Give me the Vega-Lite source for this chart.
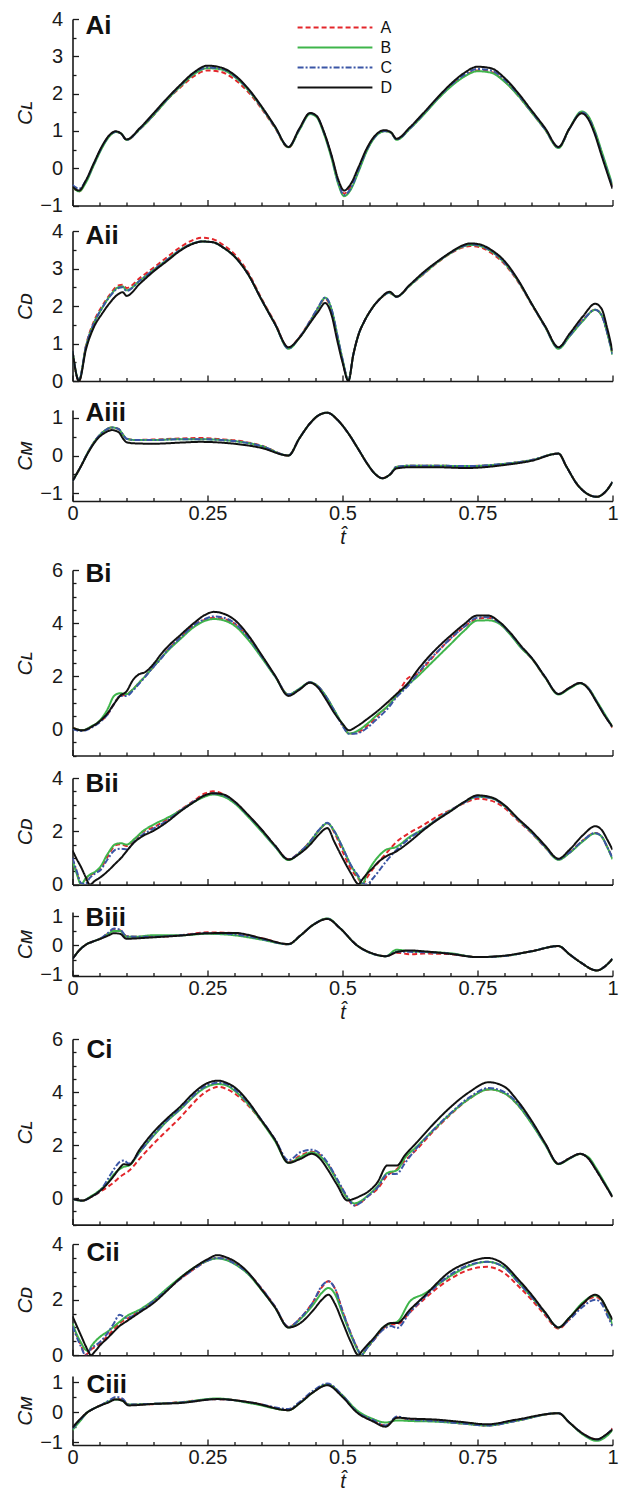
{
"$schema": "https://vega.github.io/schema/vega-lite/v6.json",
"padding": {"left": 13.5, "top": 9, "right": 5, "bottom": 3},
"bounds": "flush",
"spacing": 0,
"resolve": {"legend": {"color": "independent", "strokeDash": "independent"}},
"config": {
 "font": "Liberation Sans",
 "view": {"stroke": null},
 "axis": {"domainColor": "#1a1a1a", "domainWidth": 1.6, "tickColor": "#1a1a1a", "tickWidth": 1.3, "labelFont": "Liberation Sans", "labelFontSize": 20, "labelColor": "#1a1a1a", "titleFont": "Liberation Sans, DejaVu Sans", "titleFontSize": 21, "titleFontStyle": "italic", "titleFontWeight": "normal", "titleColor": "#1a1a1a", "grid": false, "labelFlush": false, "labelOverlap": false, "tickCount": 1000},
 "axisX": {"labelOverlap": false, "labelFlush": false},
 "axisY": {"labelOverlap": false, "labelFlush": false},
 "text": {"font": "Liberation Sans", "fontSize": 26, "fontWeight": "bold", "color": "#111111", "align": "left", "baseline": "alphabetic"}
},
"datasets": {
"ai": [
{"t":0,"A":-0.5,"B":-0.5,"C":-0.45,"D":-0.5},
{"t":0.012,"A":-0.62,"B":-0.62,"C":-0.55,"D":-0.6},
{"t":0.025,"A":-0.35,"B":-0.38,"C":-0.33,"D":-0.32},
{"t":0.04,"A":0.12,"B":0.1,"C":0.13,"D":0.15},
{"t":0.055,"A":0.58,"B":0.55,"C":0.58,"D":0.6},
{"t":0.068,"A":0.87,"B":0.85,"C":0.87,"D":0.88},
{"t":0.08,"A":0.98,"B":0.97,"C":0.98,"D":0.99},
{"t":0.09,"A":0.93,"B":0.93,"C":0.93,"D":0.93},
{"t":0.1,"A":0.76,"B":0.76,"C":0.76,"D":0.77},
{"t":0.125,"A":1.05,"B":1.05,"C":1.06,"D":1.08},
{"t":0.15,"A":1.42,"B":1.42,"C":1.44,"D":1.47},
{"t":0.175,"A":1.83,"B":1.83,"C":1.85,"D":1.87},
{"t":0.2,"A":2.17,"B":2.2,"C":2.22,"D":2.24},
{"t":0.225,"A":2.47,"B":2.52,"C":2.55,"D":2.57},
{"t":0.25,"A":2.62,"B":2.68,"C":2.7,"D":2.75},
{"t":0.275,"A":2.58,"B":2.65,"C":2.67,"D":2.7},
{"t":0.3,"A":2.38,"B":2.45,"C":2.47,"D":2.5},
{"t":0.325,"A":2.05,"B":2.1,"C":2.12,"D":2.14},
{"t":0.35,"A":1.6,"B":1.63,"C":1.64,"D":1.66},
{"t":0.375,"A":1.08,"B":1.1,"C":1.1,"D":1.12},
{"t":0.4,"A":0.55,"B":0.56,"C":0.57,"D":0.57},
{"t":0.42,"A":1.04,"B":1.02,"C":1.04,"D":1.06},
{"t":0.44,"A":1.47,"B":1.45,"C":1.47,"D":1.48},
{"t":0.452,"A":1.4,"B":1.37,"C":1.4,"D":1.4},
{"t":0.465,"A":0.98,"B":0.95,"C":0.98,"D":1.0},
{"t":0.48,"A":0.3,"B":0.25,"C":0.3,"D":0.33},
{"t":0.492,"A":-0.35,"B":-0.42,"C":-0.38,"D":-0.3},
{"t":0.503,"A":-0.68,"B":-0.75,"C":-0.72,"D":-0.6},
{"t":0.515,"A":-0.5,"B":-0.58,"C":-0.55,"D":-0.43},
{"t":0.53,"A":-0.02,"B":-0.08,"C":-0.04,"D":0.04},
{"t":0.545,"A":0.5,"B":0.46,"C":0.49,"D":0.53},
{"t":0.56,"A":0.85,"B":0.83,"C":0.84,"D":0.87},
{"t":0.578,"A":1.0,"B":0.99,"C":1.0,"D":1.02},
{"t":0.59,"A":0.95,"B":0.95,"C":0.95,"D":0.96},
{"t":0.6,"A":0.78,"B":0.76,"C":0.77,"D":0.79},
{"t":0.625,"A":1.08,"B":1.06,"C":1.07,"D":1.1},
{"t":0.65,"A":1.45,"B":1.43,"C":1.45,"D":1.48},
{"t":0.675,"A":1.85,"B":1.83,"C":1.86,"D":1.88},
{"t":0.7,"A":2.2,"B":2.18,"C":2.22,"D":2.25},
{"t":0.725,"A":2.47,"B":2.45,"C":2.5,"D":2.55},
{"t":0.75,"A":2.62,"B":2.6,"C":2.66,"D":2.72},
{"t":0.775,"A":2.58,"B":2.56,"C":2.62,"D":2.68},
{"t":0.8,"A":2.33,"B":2.32,"C":2.37,"D":2.42},
{"t":0.825,"A":1.95,"B":1.95,"C":1.98,"D":2.02},
{"t":0.85,"A":1.5,"B":1.5,"C":1.52,"D":1.55},
{"t":0.875,"A":1.04,"B":1.04,"C":1.05,"D":1.08},
{"t":0.9,"A":0.55,"B":0.54,"C":0.56,"D":0.57},
{"t":0.92,"A":1.05,"B":1.06,"C":1.05,"D":1.06},
{"t":0.943,"A":1.5,"B":1.52,"C":1.5,"D":1.47},
{"t":0.955,"A":1.38,"B":1.4,"C":1.37,"D":1.32},
{"t":0.967,"A":0.98,"B":1.02,"C":0.97,"D":0.92},
{"t":0.98,"A":0.4,"B":0.45,"C":0.38,"D":0.33},
{"t":1,"A":-0.5,"B":-0.45,"C":-0.5,"D":-0.55}
],
"aii": [
{"t":0,"A":0.8,"B":0.8,"C":0.8,"D":0.8},
{"t":0.012,"A":0.0,"B":0.02,"C":0.02,"D":0.0},
{"t":0.025,"A":0.95,"B":0.92,"C":0.93,"D":0.85},
{"t":0.04,"A":1.6,"B":1.55,"C":1.55,"D":1.45},
{"t":0.055,"A":2.0,"B":1.95,"C":1.95,"D":1.8},
{"t":0.07,"A":2.32,"B":2.28,"C":2.27,"D":2.1},
{"t":0.085,"A":2.55,"B":2.5,"C":2.48,"D":2.32},
{"t":0.093,"A":2.57,"B":2.52,"C":2.5,"D":2.37},
{"t":0.1,"A":2.48,"B":2.42,"C":2.4,"D":2.27},
{"t":0.125,"A":2.75,"B":2.68,"C":2.68,"D":2.6},
{"t":0.15,"A":3.02,"B":2.96,"C":2.96,"D":2.92},
{"t":0.175,"A":3.3,"B":3.23,"C":3.23,"D":3.2},
{"t":0.2,"A":3.57,"B":3.5,"C":3.5,"D":3.48},
{"t":0.225,"A":3.77,"B":3.68,"C":3.68,"D":3.67},
{"t":0.24,"A":3.82,"B":3.72,"C":3.72,"D":3.72},
{"t":0.26,"A":3.78,"B":3.7,"C":3.7,"D":3.7},
{"t":0.28,"A":3.62,"B":3.55,"C":3.55,"D":3.55},
{"t":0.3,"A":3.38,"B":3.32,"C":3.32,"D":3.32},
{"t":0.325,"A":2.9,"B":2.85,"C":2.85,"D":2.85},
{"t":0.35,"A":2.2,"B":2.17,"C":2.17,"D":2.17},
{"t":0.375,"A":1.55,"B":1.52,"C":1.52,"D":1.52},
{"t":0.4,"A":0.88,"B":0.86,"C":0.87,"D":0.9},
{"t":0.42,"A":1.17,"B":1.15,"C":1.16,"D":1.15},
{"t":0.44,"A":1.6,"B":1.58,"C":1.6,"D":1.55},
{"t":0.455,"A":1.95,"B":1.95,"C":1.97,"D":1.85},
{"t":0.468,"A":2.2,"B":2.22,"C":2.23,"D":2.08},
{"t":0.48,"A":1.85,"B":1.9,"C":1.9,"D":1.75},
{"t":0.49,"A":1.2,"B":1.25,"C":1.25,"D":1.1},
{"t":0.5,"A":0.55,"B":0.58,"C":0.58,"D":0.5},
{"t":0.511,"A":0.02,"B":0.02,"C":0.02,"D":0.0},
{"t":0.52,"A":0.7,"B":0.7,"C":0.7,"D":0.7},
{"t":0.53,"A":1.25,"B":1.25,"C":1.25,"D":1.25},
{"t":0.54,"A":1.58,"B":1.58,"C":1.58,"D":1.58},
{"t":0.552,"A":1.88,"B":1.88,"C":1.88,"D":1.88},
{"t":0.57,"A":2.2,"B":2.2,"C":2.2,"D":2.2},
{"t":0.587,"A":2.35,"B":2.35,"C":2.36,"D":2.38},
{"t":0.6,"A":2.25,"B":2.25,"C":2.25,"D":2.25},
{"t":0.625,"A":2.55,"B":2.55,"C":2.56,"D":2.57},
{"t":0.65,"A":2.85,"B":2.86,"C":2.87,"D":2.9},
{"t":0.675,"A":3.15,"B":3.16,"C":3.17,"D":3.18},
{"t":0.7,"A":3.4,"B":3.41,"C":3.42,"D":3.43},
{"t":0.72,"A":3.55,"B":3.57,"C":3.58,"D":3.6},
{"t":0.737,"A":3.6,"B":3.63,"C":3.64,"D":3.67},
{"t":0.755,"A":3.57,"B":3.6,"C":3.61,"D":3.64},
{"t":0.775,"A":3.42,"B":3.46,"C":3.47,"D":3.5},
{"t":0.8,"A":3.12,"B":3.15,"C":3.16,"D":3.2},
{"t":0.825,"A":2.65,"B":2.67,"C":2.68,"D":2.7},
{"t":0.85,"A":2.05,"B":2.06,"C":2.06,"D":2.07},
{"t":0.875,"A":1.45,"B":1.45,"C":1.45,"D":1.47},
{"t":0.9,"A":0.88,"B":0.86,"C":0.88,"D":0.9},
{"t":0.92,"A":1.2,"B":1.18,"C":1.2,"D":1.25},
{"t":0.945,"A":1.62,"B":1.6,"C":1.62,"D":1.72},
{"t":0.968,"A":1.9,"B":1.9,"C":1.9,"D":2.06},
{"t":0.98,"A":1.75,"B":1.75,"C":1.75,"D":1.92},
{"t":0.99,"A":1.3,"B":1.3,"C":1.3,"D":1.42},
{"t":1,"A":0.72,"B":0.7,"C":0.72,"D":0.8}
],
"aiii": [
{"t":0,"A":-0.68,"B":-0.68,"C":-0.68,"D":-0.67},
{"t":0.015,"A":-0.3,"B":-0.3,"C":-0.3,"D":-0.3},
{"t":0.03,"A":0.12,"B":0.12,"C":0.12,"D":0.1},
{"t":0.045,"A":0.45,"B":0.45,"C":0.45,"D":0.42},
{"t":0.06,"A":0.66,"B":0.66,"C":0.66,"D":0.6},
{"t":0.073,"A":0.74,"B":0.74,"C":0.74,"D":0.67},
{"t":0.085,"A":0.7,"B":0.7,"C":0.7,"D":0.62},
{"t":0.095,"A":0.52,"B":0.52,"C":0.52,"D":0.42},
{"t":0.1,"A":0.44,"B":0.44,"C":0.44,"D":0.35},
{"t":0.115,"A":0.41,"B":0.41,"C":0.41,"D":0.32},
{"t":0.15,"A":0.42,"B":0.41,"C":0.41,"D":0.31},
{"t":0.2,"A":0.45,"B":0.43,"C":0.43,"D":0.34},
{"t":0.237,"A":0.46,"B":0.43,"C":0.43,"D":0.36},
{"t":0.275,"A":0.43,"B":0.41,"C":0.41,"D":0.34},
{"t":0.3,"A":0.4,"B":0.38,"C":0.38,"D":0.31},
{"t":0.35,"A":0.26,"B":0.25,"C":0.25,"D":0.2},
{"t":0.4,"A":0.0,"B":0.0,"C":0.0,"D":0.0},
{"t":0.42,"A":0.45,"B":0.45,"C":0.45,"D":0.45},
{"t":0.44,"A":0.85,"B":0.85,"C":0.85,"D":0.85},
{"t":0.458,"A":1.08,"B":1.08,"C":1.08,"D":1.08},
{"t":0.472,"A":1.13,"B":1.13,"C":1.13,"D":1.13},
{"t":0.49,"A":0.95,"B":0.95,"C":0.95,"D":0.95},
{"t":0.51,"A":0.6,"B":0.6,"C":0.6,"D":0.6},
{"t":0.53,"A":0.15,"B":0.15,"C":0.15,"D":0.15},
{"t":0.546,"A":-0.22,"B":-0.22,"C":-0.22,"D":-0.22},
{"t":0.56,"A":-0.48,"B":-0.48,"C":-0.48,"D":-0.48},
{"t":0.574,"A":-0.6,"B":-0.6,"C":-0.6,"D":-0.6},
{"t":0.588,"A":-0.5,"B":-0.5,"C":-0.5,"D":-0.5},
{"t":0.6,"A":-0.3,"B":-0.3,"C":-0.3,"D":-0.34},
{"t":0.625,"A":-0.27,"B":-0.27,"C":-0.27,"D":-0.31},
{"t":0.675,"A":-0.27,"B":-0.27,"C":-0.27,"D":-0.31},
{"t":0.73,"A":-0.28,"B":-0.28,"C":-0.28,"D":-0.33},
{"t":0.8,"A":-0.22,"B":-0.22,"C":-0.22,"D":-0.25},
{"t":0.85,"A":-0.12,"B":-0.12,"C":-0.12,"D":-0.14},
{"t":0.9,"A":0.05,"B":0.05,"C":0.05,"D":0.05},
{"t":0.915,"A":-0.3,"B":-0.3,"C":-0.3,"D":-0.3},
{"t":0.934,"A":-0.75,"B":-0.75,"C":-0.75,"D":-0.75},
{"t":0.952,"A":-1.0,"B":-1.0,"C":-1.0,"D":-1.0},
{"t":0.971,"A":-1.09,"B":-1.09,"C":-1.09,"D":-1.09},
{"t":0.986,"A":-0.97,"B":-0.97,"C":-0.97,"D":-0.97},
{"t":1,"A":-0.7,"B":-0.7,"C":-0.7,"D":-0.7}
],
"bi": [
{"t":0,"A":0.05,"B":0.05,"C":0.0,"D":0.05},
{"t":0.018,"A":-0.05,"B":-0.05,"C":-0.08,"D":-0.05},
{"t":0.035,"A":0.08,"B":0.1,"C":0.05,"D":0.08},
{"t":0.052,"A":0.3,"B":0.35,"C":0.28,"D":0.32},
{"t":0.065,"A":0.55,"B":0.75,"C":0.55,"D":0.6},
{"t":0.077,"A":0.95,"B":1.25,"C":0.95,"D":0.95},
{"t":0.088,"A":1.25,"B":1.35,"C":1.25,"D":1.25},
{"t":0.1,"A":1.3,"B":1.32,"C":1.25,"D":1.42},
{"t":0.112,"A":1.5,"B":1.5,"C":1.45,"D":1.85},
{"t":0.122,"A":1.72,"B":1.72,"C":1.68,"D":2.05},
{"t":0.135,"A":2.0,"B":2.0,"C":1.98,"D":2.15},
{"t":0.15,"A":2.35,"B":2.35,"C":2.35,"D":2.45},
{"t":0.165,"A":2.7,"B":2.7,"C":2.68,"D":2.85},
{"t":0.175,"A":2.95,"B":2.92,"C":2.95,"D":3.08},
{"t":0.2,"A":3.45,"B":3.4,"C":3.45,"D":3.55},
{"t":0.225,"A":3.92,"B":3.85,"C":3.92,"D":4.0},
{"t":0.245,"A":4.12,"B":4.08,"C":4.15,"D":4.3},
{"t":0.262,"A":4.2,"B":4.15,"C":4.25,"D":4.42},
{"t":0.28,"A":4.15,"B":4.1,"C":4.2,"D":4.35},
{"t":0.3,"A":3.98,"B":3.9,"C":4.0,"D":4.12},
{"t":0.325,"A":3.45,"B":3.38,"C":3.47,"D":3.55},
{"t":0.35,"A":2.75,"B":2.7,"C":2.75,"D":2.8},
{"t":0.375,"A":2.0,"B":1.98,"C":2.0,"D":2.02},
{"t":0.4,"A":1.3,"B":1.3,"C":1.3,"D":1.25},
{"t":0.42,"A":1.5,"B":1.52,"C":1.5,"D":1.48},
{"t":0.44,"A":1.76,"B":1.76,"C":1.76,"D":1.75},
{"t":0.455,"A":1.6,"B":1.6,"C":1.6,"D":1.55},
{"t":0.47,"A":1.2,"B":1.22,"C":1.2,"D":1.1},
{"t":0.485,"A":0.68,"B":0.7,"C":0.68,"D":0.6},
{"t":0.5,"A":0.15,"B":0.18,"C":0.12,"D":0.2},
{"t":0.512,"A":-0.17,"B":-0.17,"C":-0.18,"D":-0.05},
{"t":0.525,"A":-0.15,"B":-0.1,"C":-0.17,"D":0.08},
{"t":0.546,"A":0.12,"B":0.2,"C":0.05,"D":0.38},
{"t":0.565,"A":0.5,"B":0.55,"C":0.4,"D":0.68},
{"t":0.583,"A":0.85,"B":0.85,"C":0.75,"D":1.0},
{"t":0.6,"A":1.25,"B":1.25,"C":1.2,"D":1.32},
{"t":0.62,"A":1.9,"B":1.65,"C":1.6,"D":1.7},
{"t":0.64,"A":2.1,"B":2.0,"C":2.1,"D":2.25},
{"t":0.656,"A":2.45,"B":2.32,"C":2.5,"D":2.64},
{"t":0.68,"A":3.0,"B":2.8,"C":3.0,"D":3.15},
{"t":0.7,"A":3.4,"B":3.2,"C":3.42,"D":3.52},
{"t":0.725,"A":3.85,"B":3.7,"C":3.85,"D":3.95},
{"t":0.749,"A":4.15,"B":4.09,"C":4.2,"D":4.28},
{"t":0.77,"A":4.2,"B":4.1,"C":4.22,"D":4.28},
{"t":0.79,"A":4.0,"B":3.98,"C":4.02,"D":4.05},
{"t":0.81,"A":3.6,"B":3.58,"C":3.62,"D":3.65},
{"t":0.83,"A":3.1,"B":3.08,"C":3.12,"D":3.15},
{"t":0.852,"A":2.62,"B":2.62,"C":2.64,"D":2.64},
{"t":0.875,"A":1.95,"B":1.95,"C":1.97,"D":1.97},
{"t":0.9,"A":1.32,"B":1.3,"C":1.32,"D":1.32},
{"t":0.92,"A":1.55,"B":1.52,"C":1.55,"D":1.55},
{"t":0.94,"A":1.74,"B":1.72,"C":1.74,"D":1.74},
{"t":0.955,"A":1.55,"B":1.55,"C":1.55,"D":1.52},
{"t":0.971,"A":1.02,"B":1.05,"C":1.02,"D":1.0},
{"t":0.985,"A":0.55,"B":0.58,"C":0.55,"D":0.52},
{"t":1,"A":0.05,"B":0.08,"C":0.05,"D":0.09}
],
"bii": [
{"t":0,"A":0.95,"B":0.9,"C":1.0,"D":1.28},
{"t":0.008,"A":0.45,"B":0.4,"C":0.5,"D":0.95},
{"t":0.016,"A":0.0,"B":0.0,"C":0.05,"D":0.65},
{"t":0.024,"A":0.2,"B":0.22,"C":0.02,"D":0.3},
{"t":0.032,"A":0.35,"B":0.37,"C":0.25,"D":0.0},
{"t":0.042,"A":0.45,"B":0.48,"C":0.42,"D":0.15},
{"t":0.052,"A":0.6,"B":0.68,"C":0.55,"D":0.28},
{"t":0.065,"A":1.05,"B":1.15,"C":0.95,"D":0.5},
{"t":0.08,"A":1.48,"B":1.52,"C":1.32,"D":0.8},
{"t":0.09,"A":1.52,"B":1.55,"C":1.35,"D":1.0},
{"t":0.1,"A":1.45,"B":1.5,"C":1.32,"D":1.25},
{"t":0.115,"A":1.7,"B":1.72,"C":1.62,"D":1.6},
{"t":0.13,"A":1.98,"B":2.0,"C":1.88,"D":1.82},
{"t":0.15,"A":2.15,"B":2.25,"C":2.1,"D":2.02},
{"t":0.175,"A":2.45,"B":2.5,"C":2.4,"D":2.35},
{"t":0.2,"A":2.8,"B":2.78,"C":2.78,"D":2.75},
{"t":0.225,"A":3.15,"B":3.1,"C":3.12,"D":3.1},
{"t":0.245,"A":3.42,"B":3.3,"C":3.35,"D":3.35},
{"t":0.26,"A":3.5,"B":3.38,"C":3.42,"D":3.43},
{"t":0.28,"A":3.38,"B":3.3,"C":3.35,"D":3.38},
{"t":0.3,"A":3.1,"B":3.05,"C":3.1,"D":3.12},
{"t":0.325,"A":2.6,"B":2.55,"C":2.6,"D":2.62},
{"t":0.35,"A":2.05,"B":2.0,"C":2.05,"D":2.07},
{"t":0.375,"A":1.45,"B":1.42,"C":1.45,"D":1.47},
{"t":0.4,"A":0.95,"B":0.92,"C":0.95,"D":0.94},
{"t":0.42,"A":1.2,"B":1.18,"C":1.2,"D":1.15},
{"t":0.44,"A":1.62,"B":1.6,"C":1.62,"D":1.5},
{"t":0.455,"A":2.0,"B":2.0,"C":2.02,"D":1.85},
{"t":0.472,"A":2.3,"B":2.3,"C":2.32,"D":2.12},
{"t":0.485,"A":1.95,"B":2.0,"C":2.0,"D":1.6},
{"t":0.5,"A":1.25,"B":1.4,"C":1.4,"D":1.0},
{"t":0.515,"A":0.6,"B":0.75,"C":0.75,"D":0.45},
{"t":0.53,"A":0.2,"B":0.25,"C":0.3,"D":0.02},
{"t":0.537,"A":0.0,"B":0.02,"C":0.05,"D":0.2},
{"t":0.545,"A":0.25,"B":0.4,"C":0.0,"D":0.4},
{"t":0.555,"A":0.55,"B":0.75,"C":0.2,"D":0.6},
{"t":0.565,"A":0.8,"B":1.02,"C":0.45,"D":0.82},
{"t":0.58,"A":1.15,"B":1.3,"C":0.85,"D":1.05},
{"t":0.6,"A":1.6,"B":1.42,"C":1.3,"D":1.25},
{"t":0.625,"A":1.95,"B":1.8,"C":1.75,"D":1.62},
{"t":0.651,"A":2.25,"B":2.1,"C":2.1,"D":2.06},
{"t":0.675,"A":2.55,"B":2.45,"C":2.45,"D":2.42},
{"t":0.7,"A":2.8,"B":2.78,"C":2.78,"D":2.75},
{"t":0.725,"A":3.05,"B":3.08,"C":3.08,"D":3.1},
{"t":0.75,"A":3.22,"B":3.3,"C":3.3,"D":3.35},
{"t":0.775,"A":3.15,"B":3.25,"C":3.25,"D":3.28},
{"t":0.8,"A":2.88,"B":2.95,"C":2.95,"D":2.98},
{"t":0.825,"A":2.4,"B":2.45,"C":2.45,"D":2.48},
{"t":0.852,"A":1.9,"B":1.92,"C":1.92,"D":1.97},
{"t":0.875,"A":1.4,"B":1.42,"C":1.42,"D":1.47},
{"t":0.9,"A":0.95,"B":0.93,"C":0.95,"D":0.97},
{"t":0.92,"A":1.2,"B":1.18,"C":1.2,"D":1.3},
{"t":0.945,"A":1.65,"B":1.62,"C":1.65,"D":1.85},
{"t":0.968,"A":1.94,"B":1.92,"C":1.94,"D":2.19},
{"t":0.98,"A":1.8,"B":1.8,"C":1.8,"D":2.05},
{"t":0.99,"A":1.42,"B":1.42,"C":1.42,"D":1.7},
{"t":1,"A":1.0,"B":0.95,"C":1.0,"D":1.31}
],
"biii": [
{"t":0,"A":-0.46,"B":-0.46,"C":-0.46,"D":-0.46},
{"t":0.015,"A":-0.12,"B":-0.12,"C":-0.12,"D":-0.12},
{"t":0.027,"A":0.05,"B":0.05,"C":0.05,"D":0.05},
{"t":0.04,"A":0.15,"B":0.15,"C":0.15,"D":0.15},
{"t":0.052,"A":0.24,"B":0.24,"C":0.24,"D":0.23},
{"t":0.065,"A":0.4,"B":0.38,"C":0.42,"D":0.33},
{"t":0.077,"A":0.55,"B":0.5,"C":0.58,"D":0.42},
{"t":0.088,"A":0.52,"B":0.5,"C":0.55,"D":0.4},
{"t":0.1,"A":0.32,"B":0.3,"C":0.32,"D":0.23},
{"t":0.115,"A":0.3,"B":0.3,"C":0.3,"D":0.24},
{"t":0.15,"A":0.3,"B":0.35,"C":0.3,"D":0.28},
{"t":0.2,"A":0.35,"B":0.35,"C":0.35,"D":0.34},
{"t":0.25,"A":0.45,"B":0.4,"C":0.42,"D":0.42},
{"t":0.3,"A":0.42,"B":0.35,"C":0.38,"D":0.43},
{"t":0.35,"A":0.25,"B":0.2,"C":0.22,"D":0.25},
{"t":0.4,"A":0.04,"B":0.04,"C":0.04,"D":0.05},
{"t":0.422,"A":0.34,"B":0.34,"C":0.34,"D":0.34},
{"t":0.445,"A":0.7,"B":0.7,"C":0.7,"D":0.7},
{"t":0.472,"A":0.92,"B":0.93,"C":0.92,"D":0.91},
{"t":0.495,"A":0.6,"B":0.6,"C":0.6,"D":0.6},
{"t":0.527,"A":0.0,"B":0.0,"C":0.0,"D":0.0},
{"t":0.555,"A":-0.28,"B":-0.28,"C":-0.28,"D":-0.27},
{"t":0.58,"A":-0.37,"B":-0.37,"C":-0.37,"D":-0.37},
{"t":0.6,"A":-0.25,"B":-0.15,"C":-0.22,"D":-0.23},
{"t":0.625,"A":-0.3,"B":-0.2,"C":-0.22,"D":-0.17},
{"t":0.65,"A":-0.28,"B":-0.22,"C":-0.23,"D":-0.2},
{"t":0.7,"A":-0.3,"B":-0.27,"C":-0.28,"D":-0.29},
{"t":0.75,"A":-0.4,"B":-0.4,"C":-0.4,"D":-0.4},
{"t":0.8,"A":-0.36,"B":-0.36,"C":-0.36,"D":-0.35},
{"t":0.85,"A":-0.2,"B":-0.2,"C":-0.2,"D":-0.2},
{"t":0.9,"A":-0.02,"B":-0.02,"C":-0.02,"D":-0.02},
{"t":0.92,"A":-0.3,"B":-0.3,"C":-0.3,"D":-0.3},
{"t":0.94,"A":-0.57,"B":-0.57,"C":-0.57,"D":-0.57},
{"t":0.971,"A":-0.86,"B":-0.86,"C":-0.86,"D":-0.86},
{"t":0.986,"A":-0.72,"B":-0.72,"C":-0.72,"D":-0.72},
{"t":1,"A":-0.46,"B":-0.46,"C":-0.46,"D":-0.46}
],
"ci": [
{"t":0,"A":-0.03,"B":-0.03,"C":-0.03,"D":-0.03},
{"t":0.018,"A":-0.1,"B":-0.1,"C":-0.1,"D":-0.09},
{"t":0.035,"A":0.05,"B":0.08,"C":0.05,"D":0.05},
{"t":0.052,"A":0.25,"B":0.32,"C":0.3,"D":0.29},
{"t":0.065,"A":0.42,"B":0.58,"C":0.7,"D":0.55},
{"t":0.077,"A":0.6,"B":0.9,"C":1.1,"D":0.85},
{"t":0.088,"A":0.8,"B":1.1,"C":1.38,"D":1.15},
{"t":0.095,"A":0.9,"B":1.18,"C":1.42,"D":1.28},
{"t":0.104,"A":1.02,"B":1.22,"C":1.3,"D":1.25},
{"t":0.125,"A":1.5,"B":1.75,"C":1.75,"D":1.85},
{"t":0.15,"A":2.05,"B":2.35,"C":2.38,"D":2.49},
{"t":0.175,"A":2.55,"B":2.9,"C":2.92,"D":3.0},
{"t":0.2,"A":3.05,"B":3.35,"C":3.38,"D":3.46},
{"t":0.22,"A":3.5,"B":3.75,"C":3.78,"D":3.88},
{"t":0.237,"A":3.85,"B":4.05,"C":4.1,"D":4.18},
{"t":0.255,"A":4.1,"B":4.25,"C":4.3,"D":4.38},
{"t":0.27,"A":4.2,"B":4.3,"C":4.35,"D":4.43},
{"t":0.285,"A":4.12,"B":4.25,"C":4.3,"D":4.35},
{"t":0.3,"A":3.95,"B":4.05,"C":4.1,"D":4.18},
{"t":0.325,"A":3.5,"B":3.55,"C":3.6,"D":3.65},
{"t":0.348,"A":2.95,"B":2.95,"C":3.0,"D":2.99},
{"t":0.375,"A":2.2,"B":2.15,"C":2.22,"D":2.2},
{"t":0.4,"A":1.35,"B":1.33,"C":1.42,"D":1.33},
{"t":0.422,"A":1.6,"B":1.55,"C":1.73,"D":1.48},
{"t":0.443,"A":1.75,"B":1.72,"C":1.82,"D":1.67},
{"t":0.46,"A":1.6,"B":1.55,"C":1.65,"D":1.45},
{"t":0.472,"A":1.3,"B":1.28,"C":1.35,"D":1.1},
{"t":0.49,"A":0.7,"B":0.65,"C":0.72,"D":0.5},
{"t":0.509,"A":0.0,"B":0.0,"C":0.05,"D":-0.09},
{"t":0.522,"A":-0.28,"B":-0.2,"C":-0.28,"D":-0.02},
{"t":0.535,"A":-0.15,"B":-0.1,"C":-0.15,"D":0.1},
{"t":0.546,"A":0.05,"B":0.08,"C":0.05,"D":0.22},
{"t":0.565,"A":0.35,"B":0.45,"C":0.4,"D":0.6},
{"t":0.583,"A":0.85,"B":0.95,"C":0.9,"D":1.23},
{"t":0.601,"A":1.1,"B":1.05,"C":0.92,"D":1.23},
{"t":0.615,"A":1.4,"B":1.5,"C":1.3,"D":1.6},
{"t":0.638,"A":1.85,"B":1.95,"C":1.9,"D":2.11},
{"t":0.665,"A":2.45,"B":2.5,"C":2.5,"D":2.72},
{"t":0.7,"A":3.15,"B":3.18,"C":3.2,"D":3.43},
{"t":0.735,"A":3.75,"B":3.75,"C":3.8,"D":4.0},
{"t":0.771,"A":4.1,"B":4.1,"C":4.15,"D":4.37},
{"t":0.8,"A":3.95,"B":3.95,"C":4.0,"D":4.2},
{"t":0.823,"A":3.55,"B":3.55,"C":3.6,"D":3.7},
{"t":0.852,"A":2.78,"B":2.75,"C":2.8,"D":2.86},
{"t":0.875,"A":2.05,"B":2.02,"C":2.05,"D":2.08},
{"t":0.9,"A":1.3,"B":1.28,"C":1.3,"D":1.29},
{"t":0.92,"A":1.5,"B":1.48,"C":1.5,"D":1.5},
{"t":0.94,"A":1.67,"B":1.66,"C":1.67,"D":1.67},
{"t":0.955,"A":1.5,"B":1.55,"C":1.5,"D":1.5},
{"t":0.97,"A":1.05,"B":1.12,"C":1.05,"D":1.05},
{"t":0.985,"A":0.55,"B":0.6,"C":0.55,"D":0.55},
{"t":1,"A":0.04,"B":0.05,"C":0.04,"D":0.04}
],
"cii": [
{"t":0,"A":1.1,"B":1.15,"C":1.05,"D":1.4},
{"t":0.008,"A":0.7,"B":0.75,"C":0.65,"D":1.05},
{"t":0.016,"A":0.35,"B":0.45,"C":0.3,"D":0.7},
{"t":0.024,"A":0.02,"B":0.2,"C":0.0,"D":0.35},
{"t":0.03,"A":0.1,"B":0.15,"C":0.12,"D":0.12},
{"t":0.034,"A":0.2,"B":0.3,"C":0.25,"D":0.0},
{"t":0.042,"A":0.3,"B":0.5,"C":0.35,"D":0.15},
{"t":0.052,"A":0.45,"B":0.68,"C":0.5,"D":0.38},
{"t":0.065,"A":0.7,"B":0.85,"C":0.8,"D":0.62},
{"t":0.077,"A":0.95,"B":1.04,"C":1.16,"D":0.86},
{"t":0.087,"A":1.15,"B":1.2,"C":1.46,"D":1.05},
{"t":0.1,"A":1.3,"B":1.4,"C":1.34,"D":1.22},
{"t":0.125,"A":1.6,"B":1.65,"C":1.6,"D":1.55},
{"t":0.15,"A":1.95,"B":1.98,"C":1.95,"D":1.88},
{"t":0.175,"A":2.35,"B":2.4,"C":2.35,"D":2.32},
{"t":0.2,"A":2.75,"B":2.8,"C":2.75,"D":2.78},
{"t":0.225,"A":3.1,"B":3.15,"C":3.1,"D":3.15},
{"t":0.25,"A":3.4,"B":3.4,"C":3.4,"D":3.45},
{"t":0.268,"A":3.5,"B":3.48,"C":3.5,"D":3.6},
{"t":0.285,"A":3.45,"B":3.42,"C":3.45,"D":3.52},
{"t":0.3,"A":3.3,"B":3.28,"C":3.3,"D":3.38},
{"t":0.325,"A":2.95,"B":2.92,"C":2.95,"D":2.98},
{"t":0.348,"A":2.45,"B":2.4,"C":2.45,"D":2.42},
{"t":0.375,"A":1.75,"B":1.72,"C":1.75,"D":1.72},
{"t":0.4,"A":1.02,"B":1.0,"C":1.02,"D":1.0},
{"t":0.422,"A":1.34,"B":1.3,"C":1.34,"D":1.16},
{"t":0.445,"A":1.9,"B":1.8,"C":1.9,"D":1.6},
{"t":0.462,"A":2.45,"B":2.25,"C":2.5,"D":2.0},
{"t":0.474,"A":2.66,"B":2.42,"C":2.66,"D":2.18},
{"t":0.486,"A":2.4,"B":2.2,"C":2.4,"D":1.85},
{"t":0.5,"A":1.6,"B":1.5,"C":1.6,"D":1.2},
{"t":0.515,"A":0.8,"B":0.75,"C":0.8,"D":0.5},
{"t":0.53,"A":0.15,"B":0.12,"C":0.15,"D":0.0},
{"t":0.534,"A":0.0,"B":0.0,"C":0.0,"D":0.1},
{"t":0.545,"A":0.25,"B":0.25,"C":0.25,"D":0.35},
{"t":0.558,"A":0.55,"B":0.58,"C":0.55,"D":0.62},
{"t":0.575,"A":0.95,"B":1.0,"C":0.92,"D":1.0},
{"t":0.59,"A":1.12,"B":1.15,"C":1.05,"D":1.16},
{"t":0.601,"A":1.12,"B":1.2,"C":0.98,"D":1.16},
{"t":0.625,"A":1.55,"B":1.94,"C":1.55,"D":1.64},
{"t":0.65,"A":2.0,"B":2.2,"C":2.05,"D":2.1},
{"t":0.7,"A":2.75,"B":2.85,"C":2.9,"D":3.02},
{"t":0.735,"A":3.08,"B":3.22,"C":3.25,"D":3.35},
{"t":0.768,"A":3.18,"B":3.36,"C":3.36,"D":3.5},
{"t":0.8,"A":2.95,"B":3.15,"C":3.15,"D":3.25},
{"t":0.823,"A":2.54,"B":2.68,"C":2.68,"D":2.78},
{"t":0.85,"A":2.0,"B":2.1,"C":2.1,"D":2.18},
{"t":0.875,"A":1.45,"B":1.52,"C":1.52,"D":1.55},
{"t":0.9,"A":0.95,"B":1.0,"C":1.0,"D":1.0},
{"t":0.92,"A":1.3,"B":1.35,"C":1.28,"D":1.35},
{"t":0.945,"A":1.85,"B":1.9,"C":1.75,"D":1.85},
{"t":0.968,"A":2.1,"B":2.15,"C":2.0,"D":2.18},
{"t":0.98,"A":1.95,"B":2.0,"C":1.85,"D":2.0},
{"t":0.99,"A":1.55,"B":1.6,"C":1.45,"D":1.65},
{"t":1,"A":1.08,"B":1.1,"C":1.05,"D":1.28}
],
"ciii": [
{"t":0,"A":-0.55,"B":-0.6,"C":-0.55,"D":-0.52},
{"t":0.015,"A":-0.25,"B":-0.28,"C":-0.25,"D":-0.22},
{"t":0.027,"A":-0.02,"B":-0.02,"C":-0.02,"D":-0.02},
{"t":0.04,"A":0.12,"B":0.12,"C":0.12,"D":0.12},
{"t":0.052,"A":0.22,"B":0.22,"C":0.22,"D":0.22},
{"t":0.067,"A":0.35,"B":0.35,"C":0.38,"D":0.32},
{"t":0.08,"A":0.45,"B":0.42,"C":0.5,"D":0.42},
{"t":0.092,"A":0.4,"B":0.38,"C":0.45,"D":0.38},
{"t":0.104,"A":0.25,"B":0.25,"C":0.25,"D":0.22},
{"t":0.15,"A":0.26,"B":0.27,"C":0.27,"D":0.27},
{"t":0.2,"A":0.33,"B":0.32,"C":0.32,"D":0.3},
{"t":0.268,"A":0.43,"B":0.45,"C":0.43,"D":0.43},
{"t":0.336,"A":0.3,"B":0.27,"C":0.3,"D":0.3},
{"t":0.4,"A":0.06,"B":0.06,"C":0.1,"D":0.06},
{"t":0.422,"A":0.33,"B":0.31,"C":0.36,"D":0.31},
{"t":0.445,"A":0.65,"B":0.65,"C":0.7,"D":0.65},
{"t":0.472,"A":0.92,"B":0.92,"C":0.95,"D":0.89},
{"t":0.5,"A":0.55,"B":0.55,"C":0.55,"D":0.5},
{"t":0.527,"A":0.0,"B":0.05,"C":0.0,"D":-0.02},
{"t":0.555,"A":-0.28,"B":-0.22,"C":-0.25,"D":-0.3},
{"t":0.58,"A":-0.45,"B":-0.35,"C":-0.45,"D":-0.49},
{"t":0.601,"A":-0.18,"B":-0.28,"C":-0.15,"D":-0.19},
{"t":0.625,"A":-0.25,"B":-0.3,"C":-0.25,"D":-0.22},
{"t":0.67,"A":-0.28,"B":-0.32,"C":-0.3,"D":-0.25},
{"t":0.72,"A":-0.38,"B":-0.38,"C":-0.38,"D":-0.33},
{"t":0.768,"A":-0.45,"B":-0.45,"C":-0.45,"D":-0.41},
{"t":0.82,"A":-0.3,"B":-0.3,"C":-0.3,"D":-0.26},
{"t":0.9,"A":-0.04,"B":-0.04,"C":-0.04,"D":-0.04},
{"t":0.92,"A":-0.35,"B":-0.35,"C":-0.35,"D":-0.35},
{"t":0.945,"A":-0.72,"B":-0.75,"C":-0.72,"D":-0.72},
{"t":0.971,"A":-0.92,"B":-0.96,"C":-0.92,"D":-0.91},
{"t":0.986,"A":-0.8,"B":-0.85,"C":-0.8,"D":-0.78},
{"t":1,"A":-0.55,"B":-0.6,"C":-0.55,"D":-0.58}
]
},
"vconcat": [
 {"width": 540, "height": 186.5, "layer": [
  {"data": {"name": "ai"}, "transform": [{"fold": ["A","B","C","D"], "as": ["s","v"]}],
   "mark": {"type": "line", "interpolate": "monotone", "strokeWidth": 2, "clip": true},
   "encoding": {
    "x": {"field": "t", "type": "quantitative", "scale": {"domain": [0,1], "nice": false}, "axis": {"tickCount": 1000, "values": [0,0.05,0.1,0.15,0.2,0.25,0.3,0.35,0.4,0.45,0.5,0.55,0.6,0.65,0.7,0.75,0.8,0.85,0.9,0.95,1], "labels": false, "title": null, "tickSize": {"condition": {"test": "abs(datum.value*4-round(datum.value*4))<0.001", "value": -6}, "value": -3.5}}},
    "y": {"field": "v", "type": "quantitative", "scale": {"domain": [-1,4], "nice": false, "zero": false}, "axis": {"tickCount": 1000, "values": [-1,-0.5,0,0.5,1,1.5,2,2.5,3,3.5,4], "labelOverlap": false, "labelExpr": "abs(datum.value-round(datum.value))<0.001 ? format(datum.value,'~g') : ''", "tickSize": {"condition": {"test": "abs(datum.value-round(datum.value))<0.001", "value": -6}, "value": -3.5}, "labelPadding": 16, "title": "Cʟ", "minExtent": 35.5, "maxExtent": 35.5, "titlePadding": 2}},
    "color": {"field": "s", "type": "nominal", "scale": {"domain": ["A","B","C","D"], "range": ["#e3262b","#3fb54b","#3b56a6","#111111"]}, "legend": {"orient": "none", "legendX": 224, "legendY": -1.5, "title": null, "symbolType": "stroke", "symbolSize": 5600, "symbolStrokeWidth": 2, "clipHeight": 20, "rowPadding": 0, "labelFont": "Liberation Sans", "labelFontSize": 16, "labelOffset": 7, "labelColor": "#111111"}},
    "strokeDash": {"field": "s", "type": "nominal", "scale": {"domain": ["A","B","C","D"], "range": [[5,3],[1,0],[6,2,2,2],[1,0]]}, "legend": {"orient": "none", "legendX": 224, "legendY": -1.5, "title": null, "symbolType": "stroke", "symbolSize": 5600, "symbolStrokeWidth": 2, "clipHeight": 20, "rowPadding": 0, "labelFont": "Liberation Sans", "labelFontSize": 16, "labelOffset": 7, "labelColor": "#111111"}}
   }},
  {"data": {"values": [{}]}, "mark": {"type": "text"}, "encoding": {"x": {"datum": 0.024, "type": "quantitative"}, "y": {"datum": 3.6, "type": "quantitative"}, "text": {"value": "Ai"}}}
 ]},
 {"width": 540, "height": 25, "data": {"values": []}, "mark": "point"},
 {"width": 540, "height": 150, "layer": [
  {"data": {"name": "aii"}, "transform": [{"fold": ["A","B","C","D"], "as": ["s","v"]}],
   "mark": {"type": "line", "interpolate": "monotone", "strokeWidth": 2, "clip": true},
   "encoding": {
    "x": {"field": "t", "type": "quantitative", "scale": {"domain": [0,1], "nice": false}, "axis": {"tickCount": 1000, "values": [0,0.05,0.1,0.15,0.2,0.25,0.3,0.35,0.4,0.45,0.5,0.55,0.6,0.65,0.7,0.75,0.8,0.85,0.9,0.95,1], "labels": false, "title": null, "tickSize": {"condition": {"test": "abs(datum.value*4-round(datum.value*4))<0.001", "value": -6}, "value": -3.5}}},
    "y": {"field": "v", "type": "quantitative", "scale": {"domain": [0,4], "nice": false, "zero": false}, "axis": {"tickCount": 1000, "values": [0,0.5,1,1.5,2,2.5,3,3.5,4], "labelOverlap": false, "labelExpr": "abs(datum.value-round(datum.value))<0.001 ? format(datum.value,'~g') : ''", "tickSize": {"condition": {"test": "abs(datum.value-round(datum.value))<0.001", "value": -6}, "value": -3.5}, "labelPadding": 16, "title": "Cᴅ", "minExtent": 35.5, "maxExtent": 35.5, "titlePadding": 2}},
    "color": {"field": "s", "type": "nominal", "scale": {"domain": ["A","B","C","D"], "range": ["#e3262b","#3fb54b","#3b56a6","#111111"]}, "legend": null},
    "strokeDash": {"field": "s", "type": "nominal", "scale": {"domain": ["A","B","C","D"], "range": [[5,3],[1,0],[6,2,2,2],[1,0]]}, "legend": null}
   }},
  {"data": {"values": [{}]}, "mark": {"type": "text"}, "encoding": {"x": {"datum": 0.024, "type": "quantitative"}, "y": {"datum": 3.65, "type": "quantitative"}, "text": {"value": "Aii"}}}
 ]},
 {"width": 540, "height": 29, "data": {"values": []}, "mark": "point"},
 {"width": 540, "height": 91, "layer": [
  {"data": {"name": "aiii"}, "transform": [{"fold": ["A","B","C","D"], "as": ["s","v"]}],
   "mark": {"type": "line", "interpolate": "monotone", "strokeWidth": 2, "clip": true},
   "encoding": {
    "x": {"field": "t", "type": "quantitative", "scale": {"domain": [0,1], "nice": false}, "axis": {"tickCount": 1000, "values": [0,0.05,0.1,0.15,0.2,0.25,0.3,0.35,0.4,0.45,0.5,0.55,0.6,0.65,0.7,0.75,0.8,0.85,0.9,0.95,1], "labelOverlap": false, "labelExpr": "abs(datum.value*4-round(datum.value*4))<0.001 ? format(datum.value,'~g') : ''", "labelPadding": 8, "title": "t\u0302", "titleFontSize": 20, "titlePadding": 2, "tickSize": {"condition": {"test": "abs(datum.value*4-round(datum.value*4))<0.001", "value": -6}, "value": -3.5}}},
    "y": {"field": "v", "type": "quantitative", "scale": {"domain": [-1.2,1.2], "nice": false, "zero": false}, "axis": {"tickCount": 1000, "values": [-1,-0.5,0,0.5,1], "labelOverlap": false, "labelExpr": "abs(datum.value-round(datum.value))<0.001 ? format(datum.value,'~g') : ''", "tickSize": {"condition": {"test": "abs(datum.value-round(datum.value))<0.001", "value": -6}, "value": -3.5}, "labelPadding": 16, "title": "Cᴍ", "minExtent": 35.5, "maxExtent": 35.5, "titlePadding": 2}},
    "color": {"field": "s", "type": "nominal", "scale": {"domain": ["A","B","C","D"], "range": ["#e3262b","#3fb54b","#3b56a6","#111111"]}, "legend": null},
    "strokeDash": {"field": "s", "type": "nominal", "scale": {"domain": ["A","B","C","D"], "range": [[5,3],[1,0],[6,2,2,2],[1,0]]}, "legend": null}
   }},
  {"data": {"values": [{}]}, "mark": {"type": "text"}, "encoding": {"x": {"datum": 0.024, "type": "quantitative"}, "y": {"datum": 0.91, "type": "quantitative"}, "text": {"value": "Aiii"}}}
 ]},
 {"width": 540, "height": 69, "data": {"values": []}, "mark": "point"},
 {"width": 540, "height": 185.5, "layer": [
  {"data": {"name": "bi"}, "transform": [{"fold": ["A","B","C","D"], "as": ["s","v"]}],
   "mark": {"type": "line", "interpolate": "monotone", "strokeWidth": 2, "clip": true},
   "encoding": {
    "x": {"field": "t", "type": "quantitative", "scale": {"domain": [0,1], "nice": false}, "axis": {"tickCount": 1000, "values": [0,0.05,0.1,0.15,0.2,0.25,0.3,0.35,0.4,0.45,0.5,0.55,0.6,0.65,0.7,0.75,0.8,0.85,0.9,0.95,1], "labels": false, "title": null, "tickSize": {"condition": {"test": "abs(datum.value*4-round(datum.value*4))<0.001", "value": -6}, "value": -3.5}}},
    "y": {"field": "v", "type": "quantitative", "scale": {"domain": [-1,6], "nice": false, "zero": false}, "axis": {"tickCount": 1000, "values": [-1,-0.5,0,0.5,1,1.5,2,2.5,3,3.5,4,4.5,5,5.5,6], "labelOverlap": false, "labelExpr": "abs(datum.value/2-round(datum.value/2))<0.001 ? format(datum.value,'~g') : ''", "tickSize": {"condition": {"test": "abs(datum.value/2-round(datum.value/2))<0.001", "value": -6}, "value": -3.5}, "labelPadding": 16, "title": "Cʟ", "minExtent": 35.5, "maxExtent": 35.5, "titlePadding": 2}},
    "color": {"field": "s", "type": "nominal", "scale": {"domain": ["A","B","C","D"], "range": ["#e3262b","#3fb54b","#3b56a6","#111111"]}, "legend": null},
    "strokeDash": {"field": "s", "type": "nominal", "scale": {"domain": ["A","B","C","D"], "range": [[5,3],[1,0],[6,2,2,2],[1,0]]}, "legend": null}
   }},
  {"data": {"values": [{}]}, "mark": {"type": "text"}, "encoding": {"x": {"datum": 0.024, "type": "quantitative"}, "y": {"datum": 5.53, "type": "quantitative"}, "text": {"value": "Bi"}}}
 ]},
 {"width": 540, "height": 22, "data": {"values": []}, "mark": "point"},
 {"width": 540, "height": 106.6, "layer": [
  {"data": {"name": "bii"}, "transform": [{"fold": ["A","B","C","D"], "as": ["s","v"]}],
   "mark": {"type": "line", "interpolate": "monotone", "strokeWidth": 2, "clip": true},
   "encoding": {
    "x": {"field": "t", "type": "quantitative", "scale": {"domain": [0,1], "nice": false}, "axis": {"tickCount": 1000, "values": [0,0.05,0.1,0.15,0.2,0.25,0.3,0.35,0.4,0.45,0.5,0.55,0.6,0.65,0.7,0.75,0.8,0.85,0.9,0.95,1], "labels": false, "title": null, "tickSize": {"condition": {"test": "abs(datum.value*4-round(datum.value*4))<0.001", "value": -6}, "value": -3.5}}},
    "y": {"field": "v", "type": "quantitative", "scale": {"domain": [0,4], "nice": false, "zero": false}, "axis": {"tickCount": 1000, "values": [0,0.5,1,1.5,2,2.5,3,3.5,4], "labelOverlap": false, "labelExpr": "abs(datum.value/2-round(datum.value/2))<0.001 ? format(datum.value,'~g') : ''", "tickSize": {"condition": {"test": "abs(datum.value/2-round(datum.value/2))<0.001", "value": -6}, "value": -3.5}, "labelPadding": 16, "title": "Cᴅ", "minExtent": 35.5, "maxExtent": 35.5, "titlePadding": 2}},
    "color": {"field": "s", "type": "nominal", "scale": {"domain": ["A","B","C","D"], "range": ["#e3262b","#3fb54b","#3b56a6","#111111"]}, "legend": null},
    "strokeDash": {"field": "s", "type": "nominal", "scale": {"domain": ["A","B","C","D"], "range": [[5,3],[1,0],[6,2,2,2],[1,0]]}, "legend": null}
   }},
  {"data": {"values": [{}]}, "mark": {"type": "text"}, "encoding": {"x": {"datum": 0.024, "type": "quantitative"}, "y": {"datum": 3.47, "type": "quantitative"}, "text": {"value": "Bii"}}}
 ]},
 {"width": 540, "height": 26.7, "data": {"values": []}, "mark": "point"},
 {"width": 540, "height": 64, "layer": [
  {"data": {"name": "biii"}, "transform": [{"fold": ["A","B","C","D"], "as": ["s","v"]}],
   "mark": {"type": "line", "interpolate": "monotone", "strokeWidth": 2, "clip": true},
   "encoding": {
    "x": {"field": "t", "type": "quantitative", "scale": {"domain": [0,1], "nice": false}, "axis": {"tickCount": 1000, "values": [0,0.05,0.1,0.15,0.2,0.25,0.3,0.35,0.4,0.45,0.5,0.55,0.6,0.65,0.7,0.75,0.8,0.85,0.9,0.95,1], "labelOverlap": false, "labelExpr": "abs(datum.value*4-round(datum.value*4))<0.001 ? format(datum.value,'~g') : ''", "labelPadding": 8, "title": "t\u0302", "titleFontSize": 20, "titlePadding": 2, "tickSize": {"condition": {"test": "abs(datum.value*4-round(datum.value*4))<0.001", "value": -6}, "value": -3.5}}},
    "y": {"field": "v", "type": "quantitative", "scale": {"domain": [-1.05,1.15], "nice": false, "zero": false}, "axis": {"tickCount": 1000, "values": [-1,-0.5,0,0.5,1], "labelOverlap": false, "labelExpr": "abs(datum.value-round(datum.value))<0.001 ? format(datum.value,'~g') : ''", "tickSize": {"condition": {"test": "abs(datum.value-round(datum.value))<0.001", "value": -6}, "value": -3.5}, "labelPadding": 16, "title": "Cᴍ", "minExtent": 35.5, "maxExtent": 35.5, "titlePadding": 2}},
    "color": {"field": "s", "type": "nominal", "scale": {"domain": ["A","B","C","D"], "range": ["#e3262b","#3fb54b","#3b56a6","#111111"]}, "legend": null},
    "strokeDash": {"field": "s", "type": "nominal", "scale": {"domain": ["A","B","C","D"], "range": [[5,3],[1,0],[6,2,2,2],[1,0]]}, "legend": null}
   }},
  {"data": {"values": [{}]}, "mark": {"type": "text"}, "encoding": {"x": {"datum": 0.024, "type": "quantitative"}, "y": {"datum": 0.66, "type": "quantitative"}, "text": {"value": "Biii"}}}
 ]},
 {"width": 540, "height": 62.5, "data": {"values": []}, "mark": "point"},
 {"width": 540, "height": 185.6, "layer": [
  {"data": {"name": "ci"}, "transform": [{"fold": ["A","B","C","D"], "as": ["s","v"]}],
   "mark": {"type": "line", "interpolate": "monotone", "strokeWidth": 2, "clip": true},
   "encoding": {
    "x": {"field": "t", "type": "quantitative", "scale": {"domain": [0,1], "nice": false}, "axis": {"tickCount": 1000, "values": [0,0.05,0.1,0.15,0.2,0.25,0.3,0.35,0.4,0.45,0.5,0.55,0.6,0.65,0.7,0.75,0.8,0.85,0.9,0.95,1], "labels": false, "title": null, "tickSize": {"condition": {"test": "abs(datum.value*4-round(datum.value*4))<0.001", "value": -6}, "value": -3.5}}},
    "y": {"field": "v", "type": "quantitative", "scale": {"domain": [-1,6], "nice": false, "zero": false}, "axis": {"tickCount": 1000, "values": [-1,-0.5,0,0.5,1,1.5,2,2.5,3,3.5,4,4.5,5,5.5,6], "labelOverlap": false, "labelExpr": "abs(datum.value/2-round(datum.value/2))<0.001 ? format(datum.value,'~g') : ''", "tickSize": {"condition": {"test": "abs(datum.value/2-round(datum.value/2))<0.001", "value": -6}, "value": -3.5}, "labelPadding": 16, "title": "Cʟ", "minExtent": 35.5, "maxExtent": 35.5, "titlePadding": 2}},
    "color": {"field": "s", "type": "nominal", "scale": {"domain": ["A","B","C","D"], "range": ["#e3262b","#3fb54b","#3b56a6","#111111"]}, "legend": null},
    "strokeDash": {"field": "s", "type": "nominal", "scale": {"domain": ["A","B","C","D"], "range": [[5,3],[1,0],[6,2,2,2],[1,0]]}, "legend": null}
   }},
  {"data": {"values": [{}]}, "mark": {"type": "text"}, "encoding": {"x": {"datum": 0.026, "type": "quantitative"}, "y": {"datum": 5.27, "type": "quantitative"}, "text": {"value": "Ci"}}}
 ]},
 {"width": 540, "height": 18.4, "data": {"values": []}, "mark": "point"},
 {"width": 540, "height": 111.3, "layer": [
  {"data": {"name": "cii"}, "transform": [{"fold": ["A","B","C","D"], "as": ["s","v"]}],
   "mark": {"type": "line", "interpolate": "monotone", "strokeWidth": 2, "clip": true},
   "encoding": {
    "x": {"field": "t", "type": "quantitative", "scale": {"domain": [0,1], "nice": false}, "axis": {"tickCount": 1000, "values": [0,0.05,0.1,0.15,0.2,0.25,0.3,0.35,0.4,0.45,0.5,0.55,0.6,0.65,0.7,0.75,0.8,0.85,0.9,0.95,1], "labels": false, "title": null, "tickSize": {"condition": {"test": "abs(datum.value*4-round(datum.value*4))<0.001", "value": -6}, "value": -3.5}}},
    "y": {"field": "v", "type": "quantitative", "scale": {"domain": [0,4], "nice": false, "zero": false}, "axis": {"tickCount": 1000, "values": [0,0.5,1,1.5,2,2.5,3,3.5,4], "labelOverlap": false, "labelExpr": "abs(datum.value/2-round(datum.value/2))<0.001 ? format(datum.value,'~g') : ''", "tickSize": {"condition": {"test": "abs(datum.value/2-round(datum.value/2))<0.001", "value": -6}, "value": -3.5}, "labelPadding": 16, "title": "Cᴅ", "minExtent": 35.5, "maxExtent": 35.5, "titlePadding": 2}},
    "color": {"field": "s", "type": "nominal", "scale": {"domain": ["A","B","C","D"], "range": ["#e3262b","#3fb54b","#3b56a6","#111111"]}, "legend": null},
    "strokeDash": {"field": "s", "type": "nominal", "scale": {"domain": ["A","B","C","D"], "range": [[5,3],[1,0],[6,2,2,2],[1,0]]}, "legend": null}
   }},
  {"data": {"values": [{}]}, "mark": {"type": "text"}, "encoding": {"x": {"datum": 0.026, "type": "quantitative"}, "y": {"datum": 3.38, "type": "quantitative"}, "text": {"value": "Cii"}}}
 ]},
 {"width": 540, "height": 19.7, "data": {"values": []}, "mark": "point"},
 {"width": 540, "height": 69, "layer": [
  {"data": {"name": "ciii"}, "transform": [{"fold": ["A","B","C","D"], "as": ["s","v"]}],
   "mark": {"type": "line", "interpolate": "monotone", "strokeWidth": 2, "clip": true},
   "encoding": {
    "x": {"field": "t", "type": "quantitative", "scale": {"domain": [0,1], "nice": false}, "axis": {"tickCount": 1000, "values": [0,0.05,0.1,0.15,0.2,0.25,0.3,0.35,0.4,0.45,0.5,0.55,0.6,0.65,0.7,0.75,0.8,0.85,0.9,0.95,1], "labelOverlap": false, "labelExpr": "abs(datum.value*4-round(datum.value*4))<0.001 ? format(datum.value,'~g') : ''", "labelPadding": 8, "title": "t\u0302", "titleFontSize": 20, "titlePadding": 2, "tickSize": {"condition": {"test": "abs(datum.value*4-round(datum.value*4))<0.001", "value": -6}, "value": -3.5}}},
    "y": {"field": "v", "type": "quantitative", "scale": {"domain": [-1.1,1.2], "nice": false, "zero": false}, "axis": {"tickCount": 1000, "values": [-1,-0.5,0,0.5,1], "labelOverlap": false, "labelExpr": "abs(datum.value-round(datum.value))<0.001 ? format(datum.value,'~g') : ''", "tickSize": {"condition": {"test": "abs(datum.value-round(datum.value))<0.001", "value": -6}, "value": -3.5}, "labelPadding": 16, "title": "Cᴍ", "minExtent": 35.5, "maxExtent": 35.5, "titlePadding": 2}},
    "color": {"field": "s", "type": "nominal", "scale": {"domain": ["A","B","C","D"], "range": ["#e3262b","#3fb54b","#3b56a6","#111111"]}, "legend": null},
    "strokeDash": {"field": "s", "type": "nominal", "scale": {"domain": ["A","B","C","D"], "range": [[5,3],[1,0],[6,2,2,2],[1,0]]}, "legend": null}
   }},
  {"data": {"values": [{}]}, "mark": {"type": "text"}, "encoding": {"x": {"datum": 0.026, "type": "quantitative"}, "y": {"datum": 0.65, "type": "quantitative"}, "text": {"value": "Ciii"}}}
 ]}
]
}
